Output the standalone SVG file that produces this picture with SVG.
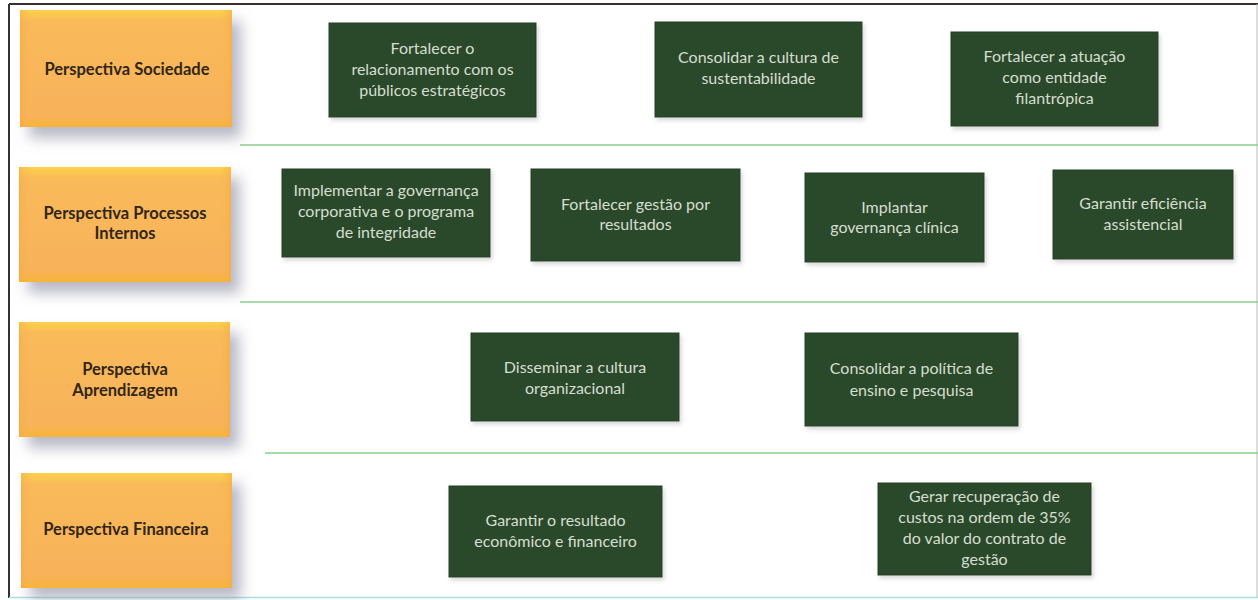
<svg xmlns="http://www.w3.org/2000/svg" width="1258" height="600" viewBox="0 0 1258 600">
<defs>
<linearGradient id="og" x1="0" y1="0" x2="0" y2="1">
<stop offset="0" stop-color="#fdd14a"/>
<stop offset="0.1" stop-color="#f9ba5a"/>
<stop offset="0.9" stop-color="#f8b25a"/>
<stop offset="1" stop-color="#f7b437"/>
</linearGradient>
<linearGradient id="oh" x1="0" y1="0" x2="1" y2="0">
<stop offset="0" stop-color="#f4a83e" stop-opacity="0.5"/>
<stop offset="0.06" stop-color="#f9b85a" stop-opacity="0"/>
<stop offset="0.94" stop-color="#f9b85a" stop-opacity="0"/>
<stop offset="1" stop-color="#f4a83e" stop-opacity="0.5"/>
</linearGradient>
<filter id="osh" x="-20%" y="-20%" width="150%" height="150%">
<feDropShadow dx="9" dy="11" stdDeviation="7" flood-color="#8a8aa0" flood-opacity="0.6"/>
</filter>
<filter id="gsh" x="-10%" y="-10%" width="130%" height="130%">
<feDropShadow dx="2" dy="3" stdDeviation="2" flood-color="#909090" flood-opacity="0.35"/>
</filter>
</defs>
<style>
.ob{fill:url(#og);filter:url(#osh)}
.ov{fill:url(#oh)}
.ot{font-family:Lato,"Open Sans",sans-serif;font-weight:bold;font-size:16.5px;fill:#30261a;text-anchor:middle}
.gb{fill:#2c4a2b;stroke:#243e24;stroke-width:1;filter:url(#gsh)}
.gt{font-family:Lato,"Open Sans",sans-serif;font-size:16px;fill:#d6ded0;text-anchor:middle}
.sep{stroke:#8ccf8a;stroke-width:1.5;fill:none}
</style>
<rect x="0" y="0" width="1258" height="600" fill="#ffffff"/>
<g id="frame">
<line x1="9" y1="4" x2="1258" y2="4" stroke="#3a2e2e" stroke-width="2"/>
<line x1="9" y1="4" x2="9" y2="598" stroke="#333333" stroke-width="2"/>
<line x1="1257" y1="4" x2="1257" y2="598" stroke="#bbbbbb" stroke-width="1"/>
<line x1="9" y1="597.5" x2="1258" y2="597.5" stroke="#a8dede" stroke-width="1.5"/>
</g>
<g id="connectors">
<line class="sep" x1="240" y1="145" x2="1258" y2="145"/>
<line class="sep" x1="240" y1="302" x2="1258" y2="302"/>
<line class="sep" x1="265" y1="453" x2="1258" y2="453"/>
</g>
<g id="p-sociedade">
<rect class="ob" x="20" y="10" width="212" height="117"/>
<rect class="ov" x="20" y="10" width="212" height="117"/>
<text class="ot" x="127" y="75">Perspectiva Sociedade</text>
</g>
<g id="p-processos">
<rect class="ob" x="19" y="167" width="212" height="115"/>
<rect class="ov" x="19" y="167" width="212" height="115"/>
<text class="ot" x="125" y="219">Perspectiva Processos</text>
<text class="ot" x="125" y="239">Internos</text>
</g>
<g id="p-aprendizagem">
<rect class="ob" x="19" y="322" width="211" height="115"/>
<rect class="ov" x="19" y="322" width="211" height="115"/>
<text class="ot" x="125" y="375">Perspectiva</text>
<text class="ot" x="125" y="396">Aprendizagem</text>
</g>
<g id="p-financeira">
<rect class="ob" x="21" y="473" width="211" height="115"/>
<rect class="ov" x="21" y="473" width="211" height="115"/>
<text class="ot" x="126" y="535">Perspectiva Financeira</text>
</g>
<g id="o-relacionamento">
<rect class="gb" x="329" y="23" width="207" height="94"/>
<text class="gt" x="432.5" y="54">Fortalecer o</text>
<text class="gt" x="432.5" y="75">relacionamento com os</text>
<text class="gt" x="432.5" y="96">públicos estratégicos</text>
</g>
<g id="o-sustentabilidade">
<rect class="gb" x="655" y="22" width="207" height="95"/>
<text class="gt" x="758.5" y="63">Consolidar a cultura de</text>
<text class="gt" x="758.5" y="84">sustentabilidade</text>
</g>
<g id="o-filantropica">
<rect class="gb" x="951" y="32" width="207" height="94"/>
<text class="gt" x="1054.5" y="62">Fortalecer a atuação</text>
<text class="gt" x="1054.5" y="83">como entidade</text>
<text class="gt" x="1054.5" y="104">filantrópica</text>
</g>
<g id="o-governanca-corporativa">
<rect class="gb" x="282" y="169" width="208" height="88"/>
<text class="gt" x="386" y="196">Implementar a governança</text>
<text class="gt" x="386" y="217">corporativa e o programa</text>
<text class="gt" x="386" y="238">de integridade</text>
</g>
<g id="o-gestao-resultados">
<rect class="gb" x="531" y="169" width="209" height="92"/>
<text class="gt" x="635.5" y="210">Fortalecer gestão por</text>
<text class="gt" x="635.5" y="230">resultados</text>
</g>
<g id="o-governanca-clinica">
<rect class="gb" x="805" y="173" width="179" height="89"/>
<text class="gt" x="894.5" y="213">Implantar</text>
<text class="gt" x="894.5" y="233">governança clínica</text>
</g>
<g id="o-eficiencia">
<rect class="gb" x="1053" y="170" width="180" height="89"/>
<text class="gt" x="1143" y="209">Garantir eficiência</text>
<text class="gt" x="1143" y="230">assistencial</text>
</g>
<g id="o-cultura-organizacional">
<rect class="gb" x="471" y="333" width="208" height="88"/>
<text class="gt" x="575" y="373">Disseminar a cultura</text>
<text class="gt" x="575" y="394">organizacional</text>
</g>
<g id="o-ensino-pesquisa">
<rect class="gb" x="805" y="333" width="213" height="93"/>
<text class="gt" x="911.5" y="374">Consolidar a política de</text>
<text class="gt" x="911.5" y="396">ensino e pesquisa</text>
</g>
<g id="o-resultado">
<rect class="gb" x="449" y="486" width="213" height="91"/>
<text class="gt" x="555.5" y="526">Garantir o resultado</text>
<text class="gt" x="555.5" y="547">econômico e financeiro</text>
</g>
<g id="o-recuperacao">
<rect class="gb" x="878" y="483" width="213" height="92"/>
<text class="gt" x="984.5" y="502">Gerar recuperação de</text>
<text class="gt" x="984.5" y="523">custos na ordem de 35%</text>
<text class="gt" x="984.5" y="544">do valor do contrato de</text>
<text class="gt" x="984.5" y="565">gestão</text>
</g>
</svg>
